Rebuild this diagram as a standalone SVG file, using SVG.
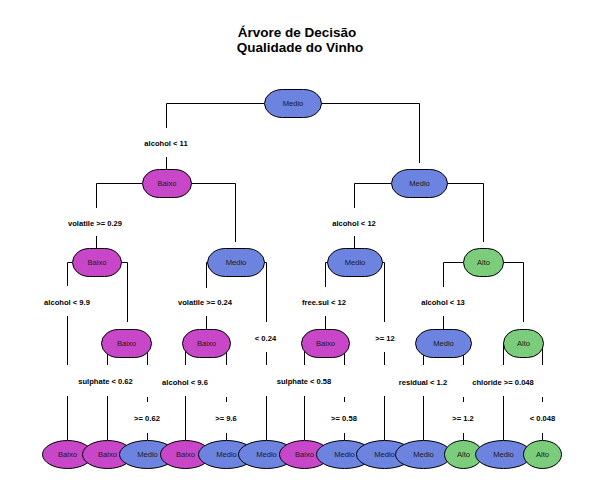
<svg xmlns="http://www.w3.org/2000/svg" width="600" height="500" viewBox="0 0 600 500">
<style>
.b{fill:#C846C8;stroke:#000;stroke-width:1}
.m{fill:#6C83DF;stroke:#000;stroke-width:1}
.a{fill:#7BCD7B;stroke:#000;stroke-width:1}
.n{font-family:"Liberation Sans",Arial,sans-serif;font-size:7.6px;fill:#1a1a1a;text-anchor:middle}
.s{font-family:"Liberation Sans",Arial,sans-serif;font-size:7.6px;font-weight:bold;fill:#000;text-anchor:middle}
.t{font-family:"Liberation Sans",Arial,sans-serif;font-size:13.5px;font-weight:bold;fill:#000;text-anchor:middle}
.c{fill:none;stroke:#000;stroke-width:1}
</style>
<rect width="600" height="500" fill="#fff"/>
<g id="title">
<text class="t" x="297" y="37">Árvore de Decisão</text>
<text class="t" x="300" y="52">Qualidade do Vinho</text>
</g>
<g id="connectors">
<path class="c" d="M166.5 103.5H264M321 103.5H419.5M166.5 103.5V128M166.5 157V169M419.5 103.5V163
M96.5 183.5H142M96.5 183.5V208M96.5 236V248M191 183.5H235.5V242
M354.5 183.5H391M354.5 183.5V208M354.5 236V249M447 183.5H483.5V242
M67.5 262.5H72M67.5 262.5V286M67.5 316V365M67.5 396V440
M121 262.5H127.5V322
M206.5 262.5H208M206.5 262.5V288M206.5 316V329
M263 262.5H266.5V322M266.5 352V365M266.5 396V440
M325.5 262.5H328M325.5 262.5V287M325.5 316V329
M381 262.5H384.5V322M384.5 352V365M384.5 396V440
M443.5 262.5H463M443.5 262.5V287M443.5 316V329
M503 262.5H523.5V322
M107.5 343V365M107.5 396V440M147.5 343V365M147.5 397V402M147.5 433V440
M185.5 343V365M185.5 396V440M226.5 343V365M226.5 397V402M226.5 433V440
M304.5 343V365M304.5 396V440M344.5 343V365M344.5 397V402M344.5 433V440
M423.5 343V365M423.5 396V440M463.5 343V365M463.5 397V402M463.5 433V440
M503.5 343V365M503.5 396V440M542.5 343V365M542.5 397V402M542.5 433V440"/>
</g>
<g id="split-labels">
<text class="s" x="166" y="145.7">alcohol &lt; 11</text>
<text class="s" x="95" y="225.7">volatile &gt;= 0.29</text>
<text class="s" x="354" y="225.7">alcohol &lt; 12</text>
<text class="s" x="67" y="304.7">alcohol &lt; 9.9</text>
<text class="s" x="205" y="305.2">volatile &gt;= 0.24</text>
<text class="s" x="324" y="304.7">free.sul &lt; 12</text>
<text class="s" x="443" y="304.7">alcohol &lt; 13</text>
<text class="s" x="265.5" y="340.7">&lt; 0.24</text>
<text class="s" x="385" y="340.7">&gt;= 12</text>
<text class="s" x="105.5" y="383.7">sulphate &lt; 0.62</text>
<text class="s" x="185" y="384.5">alcohol &lt; 9.6</text>
<text class="s" x="304" y="383.7">sulphate &lt; 0.58</text>
<text class="s" x="423" y="384.5">residual &lt; 1.2</text>
<text class="s" x="503" y="384.5">chloride &gt;= 0.048</text>
<text class="s" x="147" y="420.7">&gt;= 0.62</text>
<text class="s" x="226" y="420.7">&gt;= 9.6</text>
<text class="s" x="344" y="420.7">&gt;= 0.58</text>
<text class="s" x="463" y="420.7">&gt;= 1.2</text>
<text class="s" x="542.5" y="420.7">&lt; 0.048</text>
</g>
<g id="n1"><rect class="m" x="264.5" y="89.5" width="57" height="28" rx="18" ry="14"/><text class="n" x="293" y="106.2">Medio</text></g>
<g id="n2"><rect class="b" x="142.5" y="169.5" width="49" height="28" rx="17" ry="14"/><text class="n" x="167" y="186.2">Baixo</text></g>
<g id="n3"><rect class="m" x="391.5" y="169.5" width="56" height="28" rx="18" ry="14"/><text class="n" x="419.5" y="186.2">Medio</text></g>
<g id="n4"><rect class="b" x="72.5" y="248.5" width="49" height="28" rx="17" ry="14"/><text class="n" x="97" y="265.2">Baixo</text></g>
<g id="n5"><rect class="m" x="207.5" y="248.5" width="57" height="28" rx="18" ry="14"/><text class="n" x="236" y="265.2">Medio</text></g>
<g id="n6"><rect class="m" x="327.5" y="248.5" width="55" height="28" rx="18" ry="14"/><text class="n" x="355" y="265.2">Medio</text></g>
<g id="n7"><rect class="a" x="463.5" y="248.5" width="40" height="28" rx="16" ry="14"/><text class="n" x="483.5" y="265.2">Alto</text></g>
<g id="n8"><rect class="b" x="101.5" y="329.5" width="50" height="28" rx="17" ry="14"/><text class="n" x="126.5" y="346.2">Baixo</text></g>
<g id="n9"><rect class="b" x="182.5" y="329.5" width="48" height="28" rx="17" ry="14"/><text class="n" x="206.5" y="346.2">Baixo</text></g>
<g id="n10"><rect class="b" x="301.5" y="329.5" width="48" height="28" rx="17" ry="14"/><text class="n" x="325.5" y="346.2">Baixo</text></g>
<g id="n11"><rect class="m" x="415.5" y="329.5" width="56" height="28" rx="18" ry="14"/><text class="n" x="443.5" y="346.2">Medio</text></g>
<g id="n12"><rect class="a" x="503.5" y="329.5" width="40" height="28" rx="16" ry="14"/><text class="n" x="523.5" y="346.2">Alto</text></g>
<g id="leaf1"><ellipse class="b" cx="67.5" cy="454.5" rx="25" ry="14"/><text class="n" x="67.5" y="457.2">Baixo</text></g>
<g id="leaf2"><ellipse class="b" cx="107.5" cy="454.5" rx="25" ry="14"/><text class="n" x="107.5" y="457.2">Baixo</text></g>
<g id="leaf3"><ellipse class="m" cx="147.5" cy="454.5" rx="28" ry="14"/><text class="n" x="147.5" y="457.2">Medio</text></g>
<g id="leaf4"><ellipse class="b" cx="185.5" cy="454.5" rx="25" ry="14"/><text class="n" x="185.5" y="457.2">Baixo</text></g>
<g id="leaf5"><ellipse class="m" cx="226.5" cy="454.5" rx="28" ry="14"/><text class="n" x="226.5" y="457.2">Medio</text></g>
<g id="leaf6"><ellipse class="m" cx="266.5" cy="454.5" rx="28" ry="14"/><text class="n" x="266.5" y="457.2">Medio</text></g>
<g id="leaf7"><ellipse class="b" cx="304.5" cy="454.5" rx="25" ry="14"/><text class="n" x="304.5" y="457.2">Baixo</text></g>
<g id="leaf8"><ellipse class="m" cx="344.5" cy="454.5" rx="28" ry="14"/><text class="n" x="344.5" y="457.2">Medio</text></g>
<g id="leaf9"><ellipse class="m" cx="384.5" cy="454.5" rx="28" ry="14"/><text class="n" x="384.5" y="457.2">Medio</text></g>
<g id="leaf10"><ellipse class="m" cx="423.5" cy="454.5" rx="28" ry="14"/><text class="n" x="423.5" y="457.2">Medio</text></g>
<g id="leaf11"><ellipse class="a" cx="463.5" cy="454.5" rx="19" ry="14"/><text class="n" x="463.5" y="457.2">Alto</text></g>
<g id="leaf12"><ellipse class="m" cx="503.5" cy="454.5" rx="28" ry="14"/><text class="n" x="503.5" y="457.2">Medio</text></g>
<g id="leaf13"><ellipse class="a" cx="542.5" cy="454.5" rx="19" ry="14"/><text class="n" x="542.5" y="457.2">Alto</text></g>
</svg>
